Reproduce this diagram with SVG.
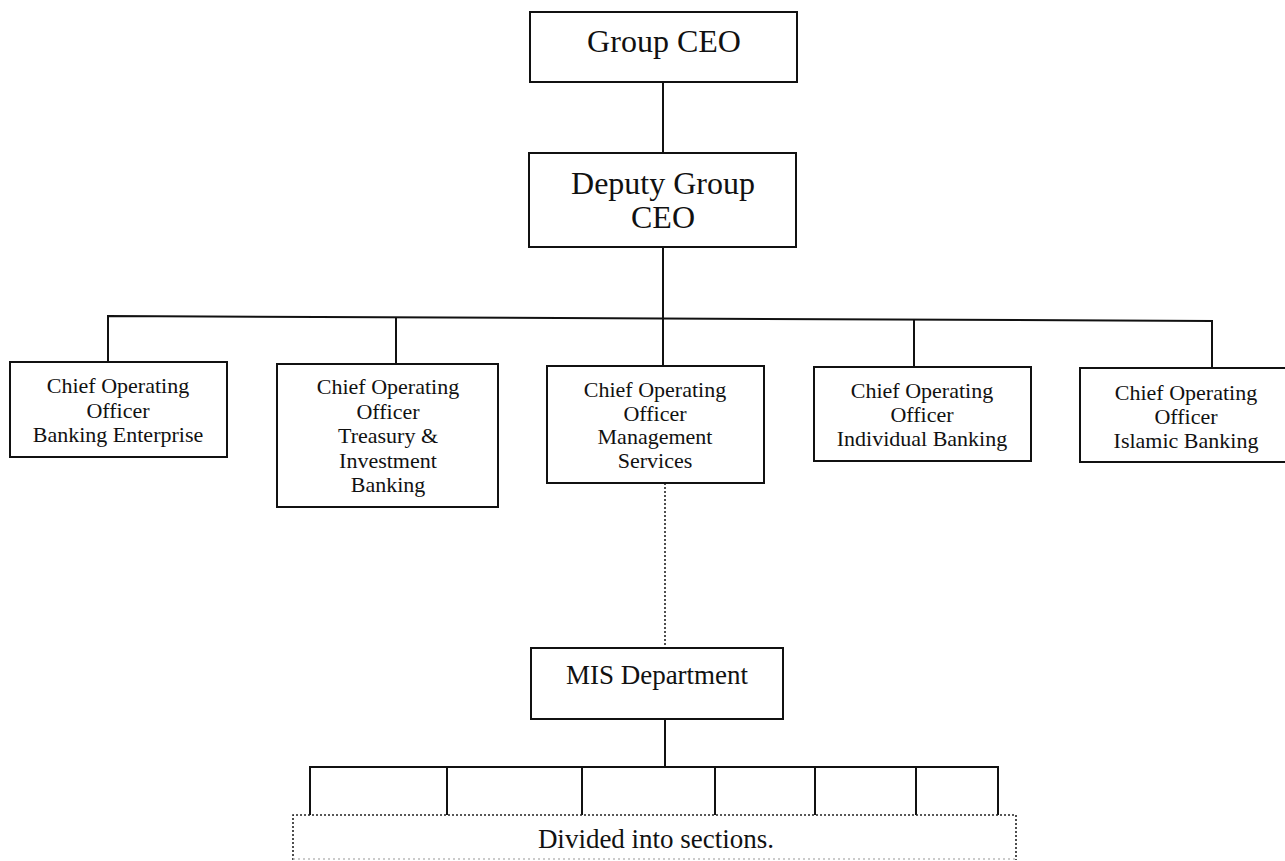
<svg xmlns="http://www.w3.org/2000/svg" width="1285" height="861" viewBox="0 0 1285 861">
  <style>
    .box { fill: #ffffff; stroke: #111111; stroke-width: 2; }
    .wire { fill: none; stroke: #111111; stroke-width: 2; }
    .dot { fill: none; stroke: #222222; stroke-width: 1.6; stroke-dasharray: 2 2; }
    .faint { fill: none; stroke: #bbbbbb; stroke-width: 1.4; stroke-dasharray: 2 3; }
    text { font-family: "Liberation Serif", "Times New Roman", serif; fill: #111111; text-anchor: middle; }
    .big { font-size: 32px; }
    .mid { font-size: 27px; }
    .small { font-size: 22px; }
  </style>

  <rect width="1285" height="861" fill="#ffffff"/>

  <!-- connectors -->
  <g id="connectors">
    <line class="wire" x1="663" y1="82" x2="663" y2="153"/>
    <line class="wire" x1="663" y1="247" x2="663" y2="318"/>
    <!-- branch bar to the five COO posts -->
    <path class="wire" d="M108 362 L108 316 L1212 321 L1212 368"/>
    <line class="wire" x1="396" y1="317" x2="396" y2="364"/>
    <line class="wire" x1="663" y1="318" x2="663" y2="366"/>
    <line class="wire" x1="914" y1="320" x2="914" y2="367"/>
    <!-- dotted reporting line to MIS -->
    <line class="dot" x1="665" y1="483" x2="665" y2="648"/>
    <!-- MIS to its sections -->
    <line class="wire" x1="665" y1="719" x2="665" y2="767"/>
    <path class="wire" d="M310 815 L310 767 L998 767 L998 815"/>
    <line class="wire" x1="447" y1="767" x2="447" y2="815"/>
    <line class="wire" x1="582" y1="767" x2="582" y2="815"/>
    <line class="wire" x1="715" y1="767" x2="715" y2="815"/>
    <line class="wire" x1="815" y1="767" x2="815" y2="815"/>
    <line class="wire" x1="916" y1="767" x2="916" y2="815"/>
  </g>

  <g id="group-ceo">
    <rect class="box" x="530" y="12" width="267" height="70"/>
    <text class="big" x="664" y="52">Group CEO</text>
  </g>

  <g id="deputy-group-ceo">
    <rect class="box" x="529" y="153" width="267" height="94"/>
    <text class="big" x="663" y="194">Deputy Group</text>
    <text class="big" x="663" y="228">CEO</text>
  </g>

  <g id="coo-banking-enterprise">
    <rect class="box" x="10" y="362" width="217" height="95"/>
    <text class="small" x="118" y="393">Chief Operating</text>
    <text class="small" x="118" y="418">Officer</text>
    <text class="small" x="118" y="442">Banking Enterprise</text>
  </g>

  <g id="coo-treasury">
    <rect class="box" x="277" y="364" width="221" height="143"/>
    <text class="small" x="388" y="394">Chief Operating</text>
    <text class="small" x="388" y="419">Officer</text>
    <text class="small" x="388" y="443">Treasury &amp;</text>
    <text class="small" x="388" y="468">Investment</text>
    <text class="small" x="388" y="492">Banking</text>
  </g>

  <g id="coo-management-services">
    <rect class="box" x="547" y="366" width="217" height="117"/>
    <text class="small" x="655" y="397">Chief Operating</text>
    <text class="small" x="655" y="421">Officer</text>
    <text class="small" x="655" y="444">Management</text>
    <text class="small" x="655" y="468">Services</text>
  </g>

  <g id="coo-individual-banking">
    <rect class="box" x="814" y="367" width="217" height="94"/>
    <text class="small" x="922" y="398">Chief Operating</text>
    <text class="small" x="922" y="422">Officer</text>
    <text class="small" x="922" y="446">Individual Banking</text>
  </g>

  <g id="coo-islamic-banking">
    <rect class="box" x="1080" y="368" width="215" height="94"/>
    <text class="small" x="1186" y="400">Chief Operating</text>
    <text class="small" x="1186" y="424">Officer</text>
    <text class="small" x="1186" y="448">Islamic Banking</text>
  </g>

  <g id="mis-department">
    <rect class="box" x="531" y="648" width="252" height="71"/>
    <text class="mid" x="657" y="684">MIS Department</text>
  </g>

  <g id="sections">
    <path class="dot" d="M293 860 L293 815 L1016 815 L1016 860"/>
    <line class="faint" x1="293" y1="859" x2="1016" y2="859"/>
    <text class="mid" x="656" y="848">Divided into sections.</text>
  </g>
</svg>
